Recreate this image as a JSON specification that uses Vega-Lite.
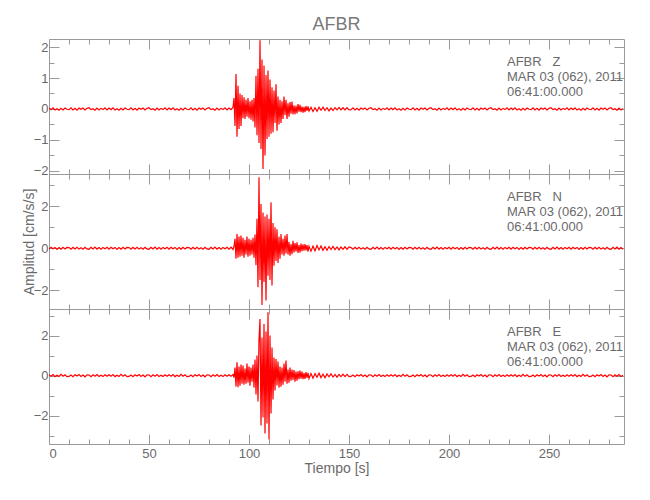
{
  "$schema": "https://vega.github.io/schema/vega-lite/v6.json",
  "background": "white",
  "padding": {"left": 21, "top": 15, "right": 5, "bottom": 5},
  "spacing": 0,
  "bounds": "flush",
  "config": {
    "font": "Liberation Sans",
    "view": {"stroke": "#9a9a9a", "strokeWidth": 1},
    "axis": {"domain": false, "grid": false, "tickColor": "#9a9a9a", "labelColor": "#6a6a6a", "titleColor": "#6a6a6a", "labelFont": "Liberation Sans", "titleFont": "Liberation Sans", "labelFontSize": 13, "titleFontSize": 14, "titleFontWeight": "normal"}
  },
  "data": {"values": [
    {"t":0,"z":0.03,"n":-0.04,"e":0.04},{"t":1,"z":-0.02,"n":0.05,"e":-0.03},{"t":2,"z":0.04,"n":-0.02,"e":0.05},{"t":3,"z":-0.03,"n":0.04,"e":-0.05},{"t":4,"z":0.01,"n":-0.06,"e":0.02},{"t":5,"z":-0.04,"n":0.03,"e":-0.04},{"t":6,"z":0.02,"n":-0.04,"e":0.06},{"t":7,"z":-0.03,"n":0.05,"e":-0.03},{"t":8,"z":0.03,"n":-0.03,"e":0.04},{"t":9,"z":-0.01,"n":0.04,"e":-0.05},
    {"t":10,"z":-0.02,"n":0.03,"e":-0.04},{"t":11,"z":0.04,"n":-0.05,"e":0.03},{"t":12,"z":-0.03,"n":0.04,"e":-0.05},{"t":13,"z":0.02,"n":-0.03,"e":0.04},{"t":14,"z":-0.04,"n":0.05,"e":-0.02},{"t":15,"z":0.03,"n":-0.04,"e":0.05},{"t":16,"z":-0.01,"n":0.02,"e":-0.04},{"t":17,"z":0.03,"n":-0.05,"e":0.03},{"t":18,"z":-0.03,"n":0.04,"e":-0.06},{"t":19,"z":0.02,"n":-0.03,"e":0.04},
    {"t":20,"z":0.04,"n":-0.05,"e":0.03},{"t":21,"z":-0.02,"n":0.04,"e":-0.05},{"t":22,"z":0.01,"n":-0.03,"e":0.04},{"t":23,"z":-0.04,"n":0.06,"e":-0.03},{"t":24,"z":0.03,"n":-0.04,"e":0.05},{"t":25,"z":-0.03,"n":0.03,"e":-0.04},{"t":26,"z":0.02,"n":-0.05,"e":0.02},{"t":27,"z":-0.02,"n":0.04,"e":-0.05},{"t":28,"z":0.04,"n":-0.02,"e":0.04},{"t":29,"z":-0.03,"n":0.05,"e":-0.03},
    {"t":30,"z":0.03,"n":-0.04,"e":0.04},{"t":31,"z":-0.02,"n":0.05,"e":-0.03},{"t":32,"z":0.04,"n":-0.02,"e":0.05},{"t":33,"z":-0.03,"n":0.04,"e":-0.05},{"t":34,"z":0.01,"n":-0.06,"e":0.02},{"t":35,"z":-0.04,"n":0.03,"e":-0.04},{"t":36,"z":0.02,"n":-0.04,"e":0.06},{"t":37,"z":-0.03,"n":0.05,"e":-0.03},{"t":38,"z":0.03,"n":-0.03,"e":0.04},{"t":39,"z":-0.01,"n":0.04,"e":-0.05},
    {"t":40,"z":-0.02,"n":0.03,"e":-0.04},{"t":41,"z":0.04,"n":-0.05,"e":0.03},{"t":42,"z":-0.03,"n":0.04,"e":-0.05},{"t":43,"z":0.02,"n":-0.03,"e":0.04},{"t":44,"z":-0.04,"n":0.05,"e":-0.02},{"t":45,"z":0.03,"n":-0.04,"e":0.05},{"t":46,"z":-0.01,"n":0.02,"e":-0.04},{"t":47,"z":0.03,"n":-0.05,"e":0.03},{"t":48,"z":-0.03,"n":0.04,"e":-0.06},{"t":49,"z":0.02,"n":-0.03,"e":0.04},
    {"t":50,"z":0.04,"n":-0.05,"e":0.03},{"t":51,"z":-0.02,"n":0.04,"e":-0.05},{"t":52,"z":0.01,"n":-0.03,"e":0.04},{"t":53,"z":-0.04,"n":0.06,"e":-0.03},{"t":54,"z":0.03,"n":-0.04,"e":0.05},{"t":55,"z":-0.03,"n":0.03,"e":-0.04},{"t":56,"z":0.02,"n":-0.05,"e":0.02},{"t":57,"z":-0.02,"n":0.04,"e":-0.05},{"t":58,"z":0.04,"n":-0.02,"e":0.04},{"t":59,"z":-0.03,"n":0.05,"e":-0.03},
    {"t":60,"z":0.03,"n":-0.04,"e":0.04},{"t":61,"z":-0.02,"n":0.05,"e":-0.03},{"t":62,"z":0.04,"n":-0.02,"e":0.05},{"t":63,"z":-0.03,"n":0.04,"e":-0.05},{"t":64,"z":0.01,"n":-0.06,"e":0.02},{"t":65,"z":-0.04,"n":0.03,"e":-0.04},{"t":66,"z":0.02,"n":-0.04,"e":0.06},{"t":67,"z":-0.03,"n":0.05,"e":-0.03},{"t":68,"z":0.03,"n":-0.03,"e":0.04},{"t":69,"z":-0.01,"n":0.04,"e":-0.05},
    {"t":70,"z":-0.02,"n":0.03,"e":-0.04},{"t":71,"z":0.04,"n":-0.05,"e":0.03},{"t":72,"z":-0.03,"n":0.04,"e":-0.05},{"t":73,"z":0.02,"n":-0.03,"e":0.04},{"t":74,"z":-0.04,"n":0.05,"e":-0.02},{"t":75,"z":0.03,"n":-0.04,"e":0.05},{"t":76,"z":-0.01,"n":0.02,"e":-0.04},{"t":77,"z":0.03,"n":-0.05,"e":0.03},{"t":78,"z":-0.03,"n":0.04,"e":-0.06},{"t":79,"z":0.02,"n":-0.03,"e":0.04},
    {"t":80,"z":0.04,"n":-0.05,"e":0.03},{"t":81,"z":-0.02,"n":0.04,"e":-0.05},{"t":82,"z":0.01,"n":-0.03,"e":0.04},{"t":83,"z":-0.04,"n":0.06,"e":-0.03},{"t":84,"z":0.03,"n":-0.04,"e":0.05},{"t":85,"z":-0.03,"n":0.03,"e":-0.04},{"t":86,"z":0.02,"n":-0.05,"e":0.02},{"t":87,"z":-0.02,"n":0.04,"e":-0.05},{"t":88,"z":0.04,"n":-0.02,"e":0.04},{"t":89,"z":-0.03,"n":0.05,"e":-0.03},
    {"t":90,"z":0.03,"n":-0.04,"e":0.04},{"t":91,"z":-0.02,"n":0.05,"e":-0.03},
    {"t":92,"z":0.05,"n":-0.06,"e":0.05},{"t":92.5,"z":0.35,"n":0.08,"e":-0.1},{"t":93,"z":-0.55,"n":0.45,"e":0.4},{"t":93.5,"z":1.13,"n":-0.5,"e":-0.55},{"t":94,"z":-0.9,"n":0.68,"e":0.67},{"t":94.5,"z":0.75,"n":-0.45,"e":-0.58},{"t":95,"z":-0.65,"n":0.55,"e":0.45},{"t":95.5,"z":0.5,"n":-0.4,"e":-0.5},{"t":96,"z":-0.55,"n":0.6,"e":0.55},{"t":96.5,"z":0.45,"n":-0.35,"e":-0.4},{"t":97,"z":-0.3,"n":0.5,"e":0.5},{"t":97.5,"z":0.38,"n":-0.45,"e":-0.45},{"t":98,"z":-0.32,"n":0.4,"e":0.35},{"t":98.5,"z":0.3,"n":-0.3,"e":-0.4},{"t":99,"z":-0.25,"n":0.55,"e":0.6},{"t":99.5,"z":0.35,"n":-0.4,"e":-0.35},{"t":100,"z":-0.3,"n":0.45,"e":0.45},{"t":100.5,"z":0.25,"n":-0.35,"e":-0.5},{"t":101,"z":-0.35,"n":0.4,"e":0.4},{"t":101.5,"z":0.3,"n":-0.3,"e":-0.3},{"t":102,"z":-0.4,"n":0.5,"e":0.55},{"t":102.5,"z":0.35,"n":-0.45,"e":-0.6},{"t":103,"z":-0.6,"n":0.65,"e":0.8},{"t":103.5,"z":1.07,"n":-0.8,"e":-0.95},{"t":104,"z":-0.85,"n":1.4,"e":1.0},{"t":104.5,"z":1.3,"n":-1.85,"e":-1.3},{"t":105,"z":-1.1,"n":3.36,"e":1.8},{"t":105.5,"z":2.22,"n":-1.5,"e":2.83},{"t":106,"z":-1.29,"n":2.1,"e":-2.5},{"t":106.5,"z":1.6,"n":-2.69,"e":1.9},{"t":107,"z":-1.94,"n":1.7,"e":-2.1},{"t":107.5,"z":1.4,"n":-1.6,"e":2.58},{"t":108,"z":-1.5,"n":1.5,"e":-2.9},{"t":108.5,"z":1.1,"n":-2.48,"e":2.2},{"t":109,"z":-0.97,"n":1.6,"e":-2.4},{"t":109.5,"z":1.24,"n":-1.3,"e":3.17},{"t":110,"z":-0.9,"n":1.4,"e":-3.2},{"t":110.5,"z":0.95,"n":-1.5,"e":2.0},{"t":111,"z":-0.8,"n":2.18,"e":-1.9},{"t":111.5,"z":0.7,"n":-1.77,"e":1.4},{"t":112,"z":-0.75,"n":1.2,"e":-1.2},
    {"t":112.5,"z":0.6,"n":-0.83,"e":0.9},{"t":113,"z":-0.45,"n":1.0,"e":-0.75},{"t":113.5,"z":0.8,"n":-0.6,"e":0.83},{"t":114,"z":-0.7,"n":0.9,"e":-0.5},{"t":114.5,"z":0.4,"n":-0.7,"e":0.7},{"t":115,"z":-0.5,"n":0.55,"e":-0.6},{"t":115.5,"z":0.3,"n":-0.5,"e":0.45},{"t":116,"z":-0.45,"n":0.68,"e":-0.55},{"t":116.5,"z":0.25,"n":-0.3,"e":0.4},{"t":117,"z":-0.32,"n":0.45,"e":-0.45},{"t":117.5,"z":0.4,"n":-0.35,"e":0.6},{"t":118,"z":-0.2,"n":0.6,"e":-0.3},{"t":118.5,"z":0.3,"n":-0.25,"e":0.75},{"t":119,"z":-0.32,"n":0.68,"e":-0.4},{"t":119.5,"z":0.18,"n":-0.3,"e":0.3},{"t":120,"z":-0.25,"n":0.3,"e":-0.35},{"t":120.5,"z":0.22,"n":-0.35,"e":0.4},{"t":121,"z":-0.15,"n":0.2,"e":-0.25},{"t":121.5,"z":0.24,"n":-0.28,"e":0.3},{"t":122,"z":-0.18,"n":0.35,"e":-0.22},{"t":122.5,"z":0.12,"n":-0.2,"e":0.28},{"t":123,"z":-0.17,"n":0.25,"e":-0.3},{"t":123.5,"z":0.1,"n":-0.15,"e":0.2},{"t":124,"z":-0.14,"n":0.28,"e":-0.25},{"t":124.5,"z":0.16,"n":-0.22,"e":0.22},{"t":125,"z":-0.09,"n":0.15,"e":-0.18},{"t":125.5,"z":0.13,"n":-0.2,"e":0.25},{"t":126,"z":-0.1,"n":0.22,"e":-0.15},{"t":126.5,"z":0.08,"n":-0.14,"e":0.2},{"t":127,"z":-0.12,"n":0.18,"e":-0.18},{"t":127.5,"z":0.07,"n":-0.12,"e":0.12},{"t":128,"z":-0.1,"n":0.2,"e":-0.16},{"t":128.5,"z":0.09,"n":-0.1,"e":0.18},{"t":129,"z":-0.06,"n":0.15,"e":-0.12},{"t":129.5,"z":0.08,"n":-0.16,"e":0.14},{"t":130,"z":-0.07,"n":0.1,"e":-0.15},
    {"t":131,"z":0.05,"n":-0.14,"e":0.1},{"t":132,"z":-0.08,"n":0.1,"e":-0.13},{"t":133,"z":0.04,"n":-0.12,"e":0.1},{"t":134,"z":-0.07,"n":0.13,"e":-0.08},{"t":135,"z":0.06,"n":-0.08,"e":0.12},{"t":136,"z":-0.04,"n":0.11,"e":-0.1},{"t":137,"z":0.06,"n":-0.1,"e":0.07},{"t":138,"z":-0.05,"n":0.07,"e":-0.11},{"t":139,"z":0.04,"n":-0.1,"e":0.08},{"t":140,"z":-0.06,"n":0.08,"e":-0.06},{"t":141,"z":0.03,"n":-0.06,"e":0.09},{"t":142,"z":-0.05,"n":0.09,"e":-0.07},{"t":143,"z":0.04,"n":-0.07,"e":0.06},{"t":144,"z":-0.03,"n":0.06,"e":-0.08},{"t":145,"z":0.05,"n":-0.08,"e":0.06},{"t":146,"z":-0.03,"n":0.06,"e":-0.05},{"t":147,"z":0.04,"n":-0.05,"e":0.07},{"t":148,"z":-0.03,"n":0.07,"e":-0.05},{"t":149,"z":0.04,"n":-0.05,"e":0.06},{"t":150,"z":-0.03,"n":0.06,"e":-0.05},
    {"t":151,"z":-0.02,"n":0.03,"e":-0.04},{"t":152,"z":0.04,"n":-0.05,"e":0.03},{"t":153,"z":-0.03,"n":0.04,"e":-0.05},{"t":154,"z":0.02,"n":-0.03,"e":0.04},{"t":155,"z":-0.04,"n":0.05,"e":-0.02},{"t":156,"z":0.03,"n":-0.04,"e":0.05},{"t":157,"z":-0.01,"n":0.02,"e":-0.04},{"t":158,"z":0.03,"n":-0.05,"e":0.03},{"t":159,"z":-0.03,"n":0.04,"e":-0.06},{"t":160,"z":0.02,"n":-0.03,"e":0.04},
    {"t":161,"z":0.04,"n":-0.05,"e":0.03},{"t":162,"z":-0.02,"n":0.04,"e":-0.05},{"t":163,"z":0.01,"n":-0.03,"e":0.04},{"t":164,"z":-0.04,"n":0.06,"e":-0.03},{"t":165,"z":0.03,"n":-0.04,"e":0.05},{"t":166,"z":-0.03,"n":0.03,"e":-0.04},{"t":167,"z":0.02,"n":-0.05,"e":0.02},{"t":168,"z":-0.02,"n":0.04,"e":-0.05},{"t":169,"z":0.04,"n":-0.02,"e":0.04},{"t":170,"z":-0.03,"n":0.05,"e":-0.03},
    {"t":171,"z":0.03,"n":-0.04,"e":0.04},{"t":172,"z":-0.02,"n":0.05,"e":-0.03},{"t":173,"z":0.04,"n":-0.02,"e":0.05},{"t":174,"z":-0.03,"n":0.04,"e":-0.05},{"t":175,"z":0.01,"n":-0.06,"e":0.02},{"t":176,"z":-0.04,"n":0.03,"e":-0.04},{"t":177,"z":0.02,"n":-0.04,"e":0.06},{"t":178,"z":-0.03,"n":0.05,"e":-0.03},{"t":179,"z":0.03,"n":-0.03,"e":0.04},{"t":180,"z":-0.01,"n":0.04,"e":-0.05},
    {"t":181,"z":-0.02,"n":0.03,"e":-0.04},{"t":182,"z":0.04,"n":-0.05,"e":0.03},{"t":183,"z":-0.03,"n":0.04,"e":-0.05},{"t":184,"z":0.02,"n":-0.03,"e":0.04},{"t":185,"z":-0.04,"n":0.05,"e":-0.02},{"t":186,"z":0.03,"n":-0.04,"e":0.05},{"t":187,"z":-0.01,"n":0.02,"e":-0.04},{"t":188,"z":0.03,"n":-0.05,"e":0.03},{"t":189,"z":-0.03,"n":0.04,"e":-0.06},{"t":190,"z":0.02,"n":-0.03,"e":0.04},
    {"t":191,"z":0.04,"n":-0.05,"e":0.03},{"t":192,"z":-0.02,"n":0.04,"e":-0.05},{"t":193,"z":0.01,"n":-0.03,"e":0.04},{"t":194,"z":-0.04,"n":0.06,"e":-0.03},{"t":195,"z":0.03,"n":-0.04,"e":0.05},{"t":196,"z":-0.03,"n":0.03,"e":-0.04},{"t":197,"z":0.02,"n":-0.05,"e":0.02},{"t":198,"z":-0.02,"n":0.04,"e":-0.05},{"t":199,"z":0.04,"n":-0.02,"e":0.04},{"t":200,"z":-0.03,"n":0.05,"e":-0.03},
    {"t":201,"z":0.03,"n":-0.04,"e":0.04},{"t":202,"z":-0.02,"n":0.05,"e":-0.03},{"t":203,"z":0.04,"n":-0.02,"e":0.05},{"t":204,"z":-0.03,"n":0.04,"e":-0.05},{"t":205,"z":0.01,"n":-0.06,"e":0.02},{"t":206,"z":-0.04,"n":0.03,"e":-0.04},{"t":207,"z":0.02,"n":-0.04,"e":0.06},{"t":208,"z":-0.03,"n":0.05,"e":-0.03},{"t":209,"z":0.03,"n":-0.03,"e":0.04},{"t":210,"z":-0.01,"n":0.04,"e":-0.05},
    {"t":211,"z":-0.02,"n":0.03,"e":-0.04},{"t":212,"z":0.04,"n":-0.05,"e":0.03},{"t":213,"z":-0.03,"n":0.04,"e":-0.05},{"t":214,"z":0.02,"n":-0.03,"e":0.04},{"t":215,"z":-0.04,"n":0.05,"e":-0.02},{"t":216,"z":0.03,"n":-0.04,"e":0.05},{"t":217,"z":-0.01,"n":0.02,"e":-0.04},{"t":218,"z":0.03,"n":-0.05,"e":0.03},{"t":219,"z":-0.03,"n":0.04,"e":-0.06},{"t":220,"z":0.02,"n":-0.03,"e":0.04},
    {"t":221,"z":0.04,"n":-0.05,"e":0.03},{"t":222,"z":-0.02,"n":0.04,"e":-0.05},{"t":223,"z":0.01,"n":-0.03,"e":0.04},{"t":224,"z":-0.04,"n":0.06,"e":-0.03},{"t":225,"z":0.03,"n":-0.04,"e":0.05},{"t":226,"z":-0.03,"n":0.03,"e":-0.04},{"t":227,"z":0.02,"n":-0.05,"e":0.02},{"t":228,"z":-0.02,"n":0.04,"e":-0.05},{"t":229,"z":0.04,"n":-0.02,"e":0.04},{"t":230,"z":-0.03,"n":0.05,"e":-0.03},
    {"t":231,"z":0.03,"n":-0.04,"e":0.04},{"t":232,"z":-0.02,"n":0.05,"e":-0.03},{"t":233,"z":0.04,"n":-0.02,"e":0.05},{"t":234,"z":-0.03,"n":0.04,"e":-0.05},{"t":235,"z":0.01,"n":-0.06,"e":0.02},{"t":236,"z":-0.04,"n":0.03,"e":-0.04},{"t":237,"z":0.02,"n":-0.04,"e":0.06},{"t":238,"z":-0.03,"n":0.05,"e":-0.03},{"t":239,"z":0.03,"n":-0.03,"e":0.04},{"t":240,"z":-0.01,"n":0.04,"e":-0.05},
    {"t":241,"z":-0.02,"n":0.03,"e":-0.04},{"t":242,"z":0.04,"n":-0.05,"e":0.03},{"t":243,"z":-0.03,"n":0.04,"e":-0.05},{"t":244,"z":0.02,"n":-0.03,"e":0.04},{"t":245,"z":-0.04,"n":0.05,"e":-0.02},{"t":246,"z":0.03,"n":-0.04,"e":0.05},{"t":247,"z":-0.01,"n":0.02,"e":-0.04},{"t":248,"z":0.03,"n":-0.05,"e":0.03},{"t":249,"z":-0.03,"n":0.04,"e":-0.06},{"t":250,"z":0.02,"n":-0.03,"e":0.04},
    {"t":251,"z":0.04,"n":-0.05,"e":0.03},{"t":252,"z":-0.02,"n":0.04,"e":-0.05},{"t":253,"z":0.01,"n":-0.03,"e":0.04},{"t":254,"z":-0.04,"n":0.06,"e":-0.03},{"t":255,"z":0.03,"n":-0.04,"e":0.05},{"t":256,"z":-0.03,"n":0.03,"e":-0.04},{"t":257,"z":0.02,"n":-0.05,"e":0.02},{"t":258,"z":-0.02,"n":0.04,"e":-0.05},{"t":259,"z":0.04,"n":-0.02,"e":0.04},{"t":260,"z":-0.03,"n":0.05,"e":-0.03},
    {"t":261,"z":0.03,"n":-0.04,"e":0.04},{"t":262,"z":-0.02,"n":0.05,"e":-0.03},{"t":263,"z":0.04,"n":-0.02,"e":0.05},{"t":264,"z":-0.03,"n":0.04,"e":-0.05},{"t":265,"z":0.01,"n":-0.06,"e":0.02},{"t":266,"z":-0.04,"n":0.03,"e":-0.04},{"t":267,"z":0.02,"n":-0.04,"e":0.06},{"t":268,"z":-0.03,"n":0.05,"e":-0.03},{"t":269,"z":0.03,"n":-0.03,"e":0.04},{"t":270,"z":-0.01,"n":0.04,"e":-0.05},
    {"t":271,"z":-0.02,"n":0.03,"e":-0.04},{"t":272,"z":0.04,"n":-0.05,"e":0.03},{"t":273,"z":-0.03,"n":0.04,"e":-0.05},{"t":274,"z":0.02,"n":-0.03,"e":0.04},{"t":275,"z":-0.04,"n":0.05,"e":-0.02},{"t":276,"z":0.03,"n":-0.04,"e":0.05},{"t":277,"z":-0.01,"n":0.02,"e":-0.04},{"t":278,"z":0.03,"n":-0.05,"e":0.03},{"t":279,"z":-0.03,"n":0.04,"e":-0.06},{"t":280,"z":0.02,"n":-0.03,"e":0.04},
    {"t":281,"z":0.04,"n":-0.05,"e":0.03},{"t":282,"z":-0.02,"n":0.04,"e":-0.05},{"t":283,"z":0.01,"n":-0.03,"e":0.04},{"t":284,"z":-0.04,"n":0.06,"e":-0.03},{"t":285,"z":0.03,"n":-0.04,"e":0.05},{"t":286,"z":-0.03,"n":0.03,"e":-0.04},{"t":287,"z":0.02,"n":-0.05,"e":0.02}
  ]},
  "vconcat": [
    {
      "width": 575, "height": 135,
      "title": {"text": "AFBR", "frame": "group", "anchor": "middle", "fontSize": 18, "fontWeight": "normal", "color": "#7a7a7a", "font": "Liberation Sans", "offset": 5},
      "layer": [
        {"mark": {"type": "line", "color": "#ff0000", "strokeWidth": 1.2, "clip": true},
         "encoding": {
           "x": {"field": "t", "type": "quantitative", "scale": {"domain": [0, 287.5], "nice": false, "zero": false},
                 "axis": {"orient": "bottom", "values": [0,50,100,150,200,250], "labels": false, "title": null, "offset": -10, "tickSize": 10}},
           "y": {"field": "z", "type": "quantitative", "scale": {"domain": [-2.1, 2.26], "nice": false, "zero": false},
                 "axis": {"orient": "left", "values": [-2,-1,0,1,2], "format": "d", "title": null, "offset": -10, "tickSize": 10, "labelPadding": 1}}
         }},
        {"mark": {"type": "line", "opacity": 0},
         "encoding": {
           "x": {"field": "t", "type": "quantitative", "axis": {"orient": "bottom", "values": [10,20,30,40,60,70,80,90,110,120,130,140,160,170,180,190,210,220,230,240,260,270,280], "labels": false, "title": null, "offset": -5, "tickSize": 5}},
           "y": {"field": "z", "type": "quantitative", "axis": {"orient": "left", "values": [-1.5,-0.5,0.5,1.5], "labels": false, "title": null, "offset": -5, "tickSize": 5}}
         }},
        {"mark": {"type": "line", "opacity": 0},
         "encoding": {
           "x": {"field": "t", "type": "quantitative", "axis": {"orient": "top", "values": [0,50,100,150,200,250], "labels": false, "title": null, "offset": -10, "tickSize": 10}},
           "y": {"field": "z", "type": "quantitative", "axis": {"orient": "right", "values": [-2,-1,0,1,2], "labels": false, "title": null, "offset": -10, "tickSize": 10}}
         }},
        {"mark": {"type": "line", "opacity": 0},
         "encoding": {
           "x": {"field": "t", "type": "quantitative", "axis": {"orient": "top", "values": [10,20,30,40,60,70,80,90,110,120,130,140,160,170,180,190,210,220,230,240,260,270,280], "labels": false, "title": null, "offset": -5, "tickSize": 5}},
           "y": {"field": "z", "type": "quantitative", "axis": {"orient": "right", "values": [-1.5,-0.5,0.5,1.5], "labels": false, "title": null, "offset": -5, "tickSize": 5}}
         }},
        {"data": {"values": [{"label": "AFBR\u00a0\u00a0\u00a0Z\nMAR 03 (062), 2011\n06:41:00.000"}]},
         "mark": {"type": "text", "align": "left", "baseline": "top", "lineBreak": "\n", "lineHeight": 15, "fontSize": 13, "color": "#6a6a6a", "font": "Liberation Sans"},
         "encoding": {
           "x": {"datum": 229, "type": "quantitative", "axis": null},
           "y": {"datum": 1.71, "type": "quantitative", "axis": null},
           "text": {"field": "label", "type": "nominal"}
         }}
      ],
      "resolve": {"axis": {"x": "independent", "y": "independent"}}
    },
    {
      "width": 575, "height": 135,
      "layer": [
        {"mark": {"type": "line", "color": "#ff0000", "strokeWidth": 1.2, "clip": true},
         "encoding": {
           "x": {"field": "t", "type": "quantitative", "scale": {"domain": [0, 287.5], "nice": false, "zero": false},
                 "axis": {"orient": "bottom", "values": [0,50,100,150,200,250], "labels": false, "title": null, "offset": -10, "tickSize": 10}},
           "y": {"field": "n", "type": "quantitative", "scale": {"domain": [-2.88, 3.52], "nice": false, "zero": false},
                 "axis": {"orient": "left", "values": [-2,0,2], "format": "d", "title": "Amplitud [cm/s/s]", "titlePadding": -3, "offset": -10, "tickSize": 10, "labelPadding": 1}}
         }},
        {"mark": {"type": "line", "opacity": 0},
         "encoding": {
           "x": {"field": "t", "type": "quantitative", "axis": {"orient": "bottom", "values": [10,20,30,40,60,70,80,90,110,120,130,140,160,170,180,190,210,220,230,240,260,270,280], "labels": false, "title": null, "offset": -5, "tickSize": 5}},
           "y": {"field": "n", "type": "quantitative", "axis": {"orient": "left", "values": [-1,1,3], "labels": false, "title": null, "offset": -5, "tickSize": 5}}
         }},
        {"mark": {"type": "line", "opacity": 0},
         "encoding": {
           "x": {"field": "t", "type": "quantitative", "axis": {"orient": "top", "values": [0,50,100,150,200,250], "labels": false, "title": null, "offset": -10, "tickSize": 10}},
           "y": {"field": "n", "type": "quantitative", "axis": {"orient": "right", "values": [-2,0,2], "labels": false, "title": null, "offset": -10, "tickSize": 10}}
         }},
        {"mark": {"type": "line", "opacity": 0},
         "encoding": {
           "x": {"field": "t", "type": "quantitative", "axis": {"orient": "top", "values": [10,20,30,40,60,70,80,90,110,120,130,140,160,170,180,190,210,220,230,240,260,270,280], "labels": false, "title": null, "offset": -5, "tickSize": 5}},
           "y": {"field": "n", "type": "quantitative", "axis": {"orient": "right", "values": [-1,1,3], "labels": false, "title": null, "offset": -5, "tickSize": 5}}
         }},
        {"data": {"values": [{"label": "AFBR\u00a0\u00a0\u00a0N\nMAR 03 (062), 2011\n06:41:00.000"}]},
         "mark": {"type": "text", "align": "left", "baseline": "top", "lineBreak": "\n", "lineHeight": 15, "fontSize": 13, "color": "#6a6a6a", "font": "Liberation Sans"},
         "encoding": {
           "x": {"datum": 229, "type": "quantitative", "axis": null},
           "y": {"datum": 2.72, "type": "quantitative", "axis": null},
           "text": {"field": "label", "type": "nominal"}
         }}
      ],
      "resolve": {"axis": {"x": "independent", "y": "independent"}}
    },
    {
      "width": 575, "height": 135,
      "layer": [
        {"mark": {"type": "line", "color": "#ff0000", "strokeWidth": 1.2, "clip": true},
         "encoding": {
           "x": {"field": "t", "type": "quantitative", "scale": {"domain": [0, 287.5], "nice": false, "zero": false},
                 "axis": {"orient": "bottom", "values": [0,50,100,150,200,250], "format": "d", "title": "Tiempo [s]", "titlePadding": 1, "offset": -10, "tickSize": 10, "labelPadding": 3}},
           "y": {"field": "e", "type": "quantitative", "scale": {"domain": [-3.42, 3.33], "nice": false, "zero": false},
                 "axis": {"orient": "left", "values": [-2,0,2], "format": "d", "title": null, "offset": -10, "tickSize": 10, "labelPadding": 1}}
         }},
        {"mark": {"type": "line", "opacity": 0},
         "encoding": {
           "x": {"field": "t", "type": "quantitative", "axis": {"orient": "bottom", "values": [10,20,30,40,60,70,80,90,110,120,130,140,160,170,180,190,210,220,230,240,260,270,280], "labels": false, "title": null, "offset": -5, "tickSize": 5}},
           "y": {"field": "e", "type": "quantitative", "axis": {"orient": "left", "values": [-3,-1,1,3], "labels": false, "title": null, "offset": -5, "tickSize": 5}}
         }},
        {"mark": {"type": "line", "opacity": 0},
         "encoding": {
           "x": {"field": "t", "type": "quantitative", "axis": {"orient": "top", "values": [0,50,100,150,200,250], "labels": false, "title": null, "offset": -10, "tickSize": 10}},
           "y": {"field": "e", "type": "quantitative", "axis": {"orient": "right", "values": [-2,0,2], "labels": false, "title": null, "offset": -10, "tickSize": 10}}
         }},
        {"mark": {"type": "line", "opacity": 0},
         "encoding": {
           "x": {"field": "t", "type": "quantitative", "axis": {"orient": "top", "values": [10,20,30,40,60,70,80,90,110,120,130,140,160,170,180,190,210,220,230,240,260,270,280], "labels": false, "title": null, "offset": -5, "tickSize": 5}},
           "y": {"field": "e", "type": "quantitative", "axis": {"orient": "right", "values": [-3,-1,1,3], "labels": false, "title": null, "offset": -5, "tickSize": 5}}
         }},
        {"data": {"values": [{"label": "AFBR\u00a0\u00a0\u00a0E\nMAR 03 (062), 2011\n06:41:00.000"}]},
         "mark": {"type": "text", "align": "left", "baseline": "top", "lineBreak": "\n", "lineHeight": 15, "fontSize": 13, "color": "#6a6a6a", "font": "Liberation Sans"},
         "encoding": {
           "x": {"datum": 229, "type": "quantitative", "axis": null},
           "y": {"datum": 2.48, "type": "quantitative", "axis": null},
           "text": {"field": "label", "type": "nominal"}
         }}
      ],
      "resolve": {"axis": {"x": "independent", "y": "independent"}}
    }
  ]
}
